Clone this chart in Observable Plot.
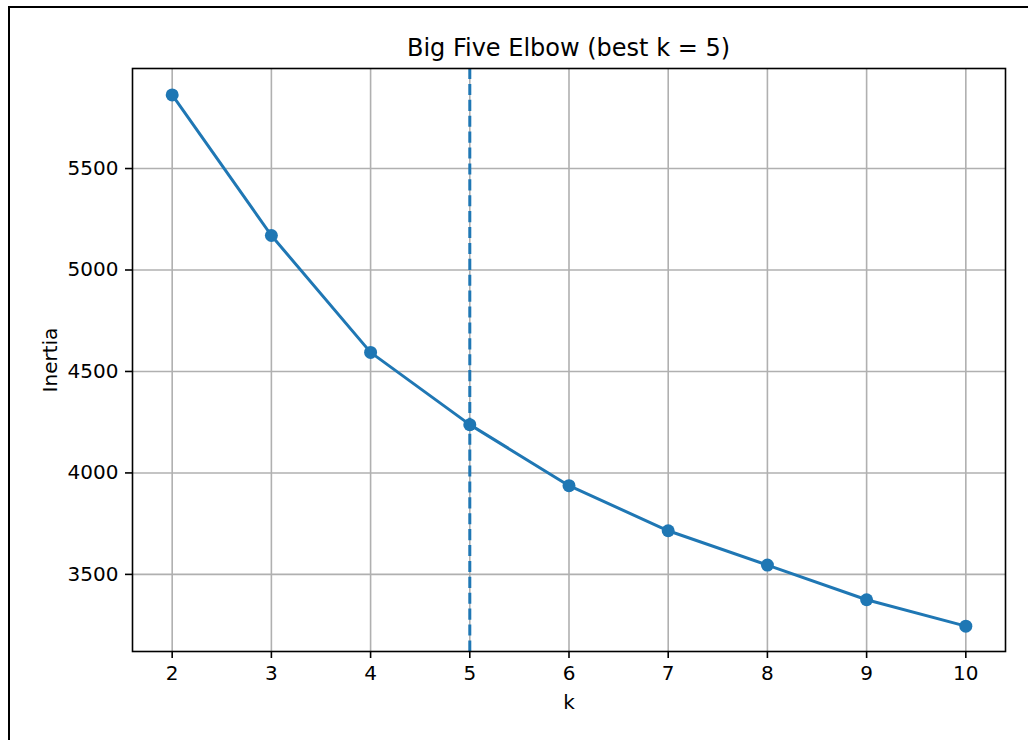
<!DOCTYPE html>
<html>
<head>
<meta charset="utf-8">
<script src="https://cdn.jsdelivr.net/npm/d3@7"></script>
<script src="https://cdn.jsdelivr.net/npm/@observablehq/plot@0.6"></script>
<style>
  html, body { margin: 0; padding: 0; background: #fff; overflow: hidden; }
  body { width: 1028px; height: 740px; position: relative; font-family: "DejaVu Sans", sans-serif; }
  #outer { position: absolute; left: 8px; top: 6px; width: 2000px; height: 2000px;
           border-left: 2px solid #000; border-top: 2px solid #000; pointer-events: none; }
  #title { position: absolute; left: 132px; width: 873px; top: 34px; text-align: center;
           font-size: 24px; line-height: 28px; color: #000; white-space: nowrap; }
  #chart { position: absolute; left: 0; top: 0; }
</style>
</head>
<body>
<div id="outer"></div>
<div id="chart"></div>
<div id="title">Big Five Elbow (best k = 5)</div>
<script>
const ks = [2, 3, 4, 5, 6, 7, 8, 9, 10];
const inertia = [5863, 5170, 4594, 4238, 3937, 3715, 3546, 3375, 3245];
const bestK = 5;
const xTicks = [2, 3, 4, 5, 6, 7, 8, 9, 10];
const yTicks = [3500, 4000, 4500, 5000, 5500];
const xLabel = "k";
const yLabel = "Inertia";

const data = ks.map((k, i) => ({k, v: inertia[i]}));
const blue = "#1f77b4";

const plot = Plot.plot({
  width: 1028,
  height: 740,
  marginTop: 68,
  marginLeft: 132,
  marginRight: 23,
  marginBottom: 89,
  style: {fontFamily: "DejaVu Sans, sans-serif", fontSize: "20px", color: "#000", background: "transparent"},
  x: {domain: [1.6, 10.4], ticks: xTicks, label: null},
  y: {domain: [3120, 5993], ticks: yTicks, label: null},
  marks: [
    Plot.gridX(xTicks, {stroke: "#b0b0b0", strokeOpacity: 1, strokeWidth: 1.6}),
    Plot.gridY(yTicks, {stroke: "#b0b0b0", strokeOpacity: 1, strokeWidth: 1.6}),
    Plot.axisX(xTicks, {tickSize: 7, tickPadding: 7, stroke: "#000", strokeWidth: 1.6, fontSize: 20, tickFormat: "d", label: null}),
    Plot.axisY(yTicks, {tickSize: 7, tickPadding: 7, stroke: "#000", strokeWidth: 1.6, fontSize: 20, tickFormat: "d", label: null}),
    Plot.line(data, {x: "k", y: "v", stroke: blue, strokeWidth: 3}),
    Plot.dot(data, {x: "k", y: "v", r: 6.5, fill: blue, stroke: "none"}),
    Plot.ruleX([bestK], {stroke: blue, strokeWidth: 3, strokeDasharray: "11.1,4.8"}),
    Plot.frame({stroke: "#000", strokeWidth: 1.6}),
    Plot.text([xLabel], {text: d => d, frameAnchor: "bottom", lineAnchor: "middle", dy: 51, fontSize: 20, fill: "#000"}),
    Plot.text([yLabel], {text: d => d, frameAnchor: "left", textAnchor: "middle", lineAnchor: "middle", dx: -82, rotate: -90, fontSize: 20, fill: "#000"})
  ]
});
document.getElementById("chart").appendChild(plot);
</script>
</body>
</html>
